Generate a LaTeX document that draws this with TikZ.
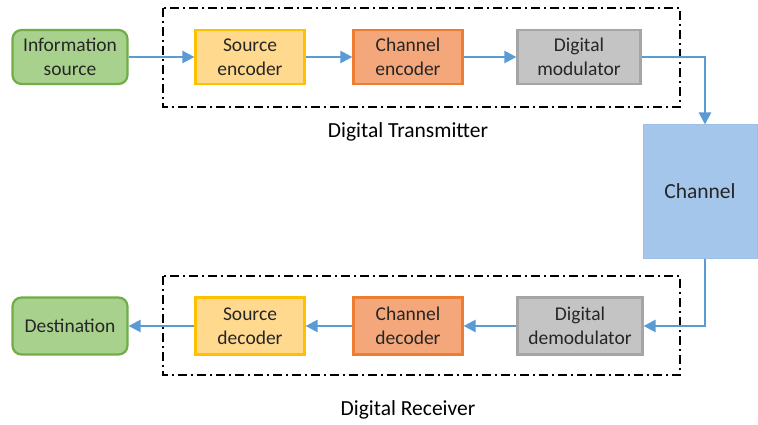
\documentclass[tikz,border=0pt]{standalone}
\usepackage{fontspec}
\setmainfont{Carlito}
\usetikzlibrary{arrows.meta,positioning}
\definecolor{linkblue}{HTML}{5B9BD5}
\definecolor{greenfill}{HTML}{A9D18E}
\definecolor{greenline}{HTML}{70AD47}
\definecolor{yellowfill}{HTML}{FFD98E}
\definecolor{yellowline}{HTML}{FFC000}
\definecolor{orangefill}{HTML}{F4A77A}
\definecolor{orangeline}{HTML}{ED7D31}
\definecolor{grayfill}{HTML}{C4C4C4}
\definecolor{grayline}{HTML}{A5A5A5}
\definecolor{chanfill}{HTML}{A4C6EA}
\definecolor{chanline}{HTML}{9CC0E6}
\tikzset{
  x=1pt, y=-1pt,
  block/.style={minimum width=109pt, minimum height=54pt, line width=2.2pt,
    align=center, font=\fontsize{19.5}{24}\selectfont, inner sep=0pt, text=black!85},
  endbox/.style={block, rounded corners=9pt, draw=greenline, fill=greenfill, minimum width=115pt},
  srcbox/.style={block, draw=yellowline, fill=yellowfill},
  chbox/.style={block, draw=orangeline, fill=orangefill},
  modbox/.style={block, draw=grayline, fill=grayfill, minimum width=123pt},
  group/.style={draw=black, line width=2.2pt, dash pattern=on 9pt off 4pt on 2pt off 4pt},
  link/.style={draw=linkblue, line width=2.4pt, -{Triangle[length=12pt,width=12pt]}},
  caption/.style={font=\fontsize{21.5}{24}\selectfont, text=black}
}
\begin{document}
\begin{tikzpicture}
\useasboundingbox (0,0) rectangle (758,425);
\fill[white] (0,0) rectangle (758,425);
% transmitter and receiver groups
\draw[group] (163,8) rectangle (680,107);
\draw[group] (163,276) rectangle (680,375);
% transmitter chain
\node[endbox] (info) at (70,57) {Information\\source};
\node[srcbox] (senc) at (250,57) {Source\\encoder};
\node[chbox] (cenc) at (408,57) {Channel\\encoder};
\node[modbox] (mod) at (579,57) {Digital\\modulator};
% channel
\node[draw=chanline, line width=1pt, fill=chanfill, minimum width=114pt, minimum height=133pt,
      font=\fontsize{21.5}{24}\selectfont, inner sep=0pt, text=black!85] (chan) at (700,191.5) {Channel};
% receiver chain
\node[modbox, minimum width=125pt, minimum height=57pt] (demod) at (580,326) {Digital\\demodulator};
\node[chbox, minimum height=57pt] (cdec) at (408,326) {Channel\\decoder};
\node[srcbox, minimum height=57pt] (sdec) at (250,326) {Source\\decoder};
\node[endbox, minimum height=57pt] (dest) at (70,326) {Destination};
% captions
\node[caption] (txlabel) at (408,132) {Digital Transmitter};
\node[caption] (rxlabel) at (408,410) {Digital Receiver};
% connectors
\coordinate (tcorner) at (705,57);
\coordinate (rcorner) at (705,326);
\draw[link] (info) -- (senc);
\draw[link] (senc) -- (cenc);
\draw[link] (cenc) -- (mod);
\draw[link] (mod.east) -- (tcorner) -- (tcorner |- chan.north);
\draw[link] (tcorner |- chan.south) -- (rcorner) -- (demod.east);
\draw[link] (demod) -- (cdec);
\draw[link] (cdec) -- (sdec);
\draw[link] (sdec) -- (dest);
\end{tikzpicture}
\end{document}
